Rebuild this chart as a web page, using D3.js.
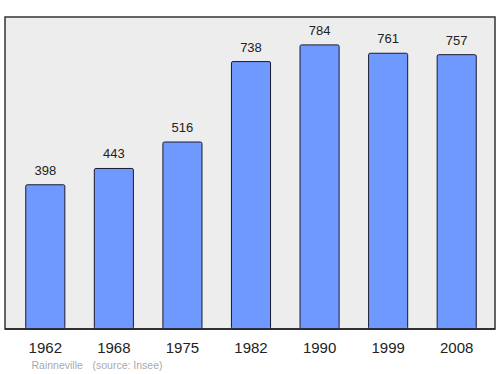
<!DOCTYPE html>
<html>
<head>
<meta charset="utf-8">
<script src="https://cdn.jsdelivr.net/npm/d3@7"></script>
<style>
  body { margin: 0; background: #fff; }
  text { font-family: "Liberation Sans", Arial, sans-serif; }
</style>
</head>
<body>
<div id="chart"></div>
<script>
// Population data
const years = ["1962", "1968", "1975", "1982", "1990", "1999", "2008"];
const population = [398, 443, 516, 738, 784, 761, 757];
const commune = "Rainneville";
const source = "(source: Insee)";

const width = 500;
const height = 374;
const marginTop = 17;
const marginRight = 5;
const marginBottom = 45;
const marginLeft = 5;

const x = d3.scaleBand(years, [11, 491]).paddingInner(0.43).paddingOuter(0.215);
const y = d3.scaleLinear([0, 861], [height - marginBottom, marginTop]);

const svg = d3.create("svg").attr("width", width).attr("height", height);

// plot background
svg.append("rect")
  .attr("x", marginLeft)
  .attr("y", marginTop)
  .attr("width", width - marginLeft - marginRight)
  .attr("height", height - marginTop - marginBottom)
  .attr("fill", "#ededed")
  .attr("stroke", "#333")
  .attr("stroke-width", 1.5);

// bars
svg.append("g")
  .selectAll("rect")
  .data(years)
  .join("rect")
  .attr("x", (d) => x(d))
  .attr("y", (d, i) => y(population[i]))
  .attr("width", x.bandwidth())
  .attr("height", (d, i) => y(0) - y(population[i]))
  .attr("rx", 1.5)
  .attr("fill", "#7099ff")
  .attr("stroke", "#1a1a2e")
  .attr("stroke-width", 1);

// value labels
svg.append("g")
  .selectAll("text")
  .data(years)
  .join("text")
  .attr("x", (d) => x(d) + x.bandwidth() / 2)
  .attr("y", (d, i) => y(population[i]) - 10)
  .attr("text-anchor", "middle")
  .attr("font-size", 13)
  .attr("fill", "#222")
  .text((d, i) => population[i]);

// redraw frame bottom over bars
svg.append("line")
  .attr("x1", marginLeft)
  .attr("x2", width - marginRight)
  .attr("y1", y(0))
  .attr("y2", y(0))
  .attr("stroke", "#222")
  .attr("stroke-width", 1.5);

// year axis
svg.append("g")
  .attr("transform", `translate(0,${height - marginBottom})`)
  .call(d3.axisBottom(x).tickSize(0).tickPadding(13))
  .call((g) => g.select(".domain").remove())
  .call((g) => g.selectAll("text")
    .attr("font-size", 15)
    .attr("font-family", "Liberation Sans, Arial, sans-serif")
    .attr("fill", "#222"));

// footer
svg.append("text")
  .attr("x", 31.5)
  .attr("y", 368.5)
  .attr("font-size", 10.5)
  .attr("fill", "#aaa")
  .text(commune);

svg.append("text")
  .attr("x", 92.5)
  .attr("y", 368.5)
  .attr("font-size", 10.5)
  .attr("fill", "#aaa")
  .text(source);

d3.select("#chart").node().appendChild(svg.node());
</script>
</body>
</html>
